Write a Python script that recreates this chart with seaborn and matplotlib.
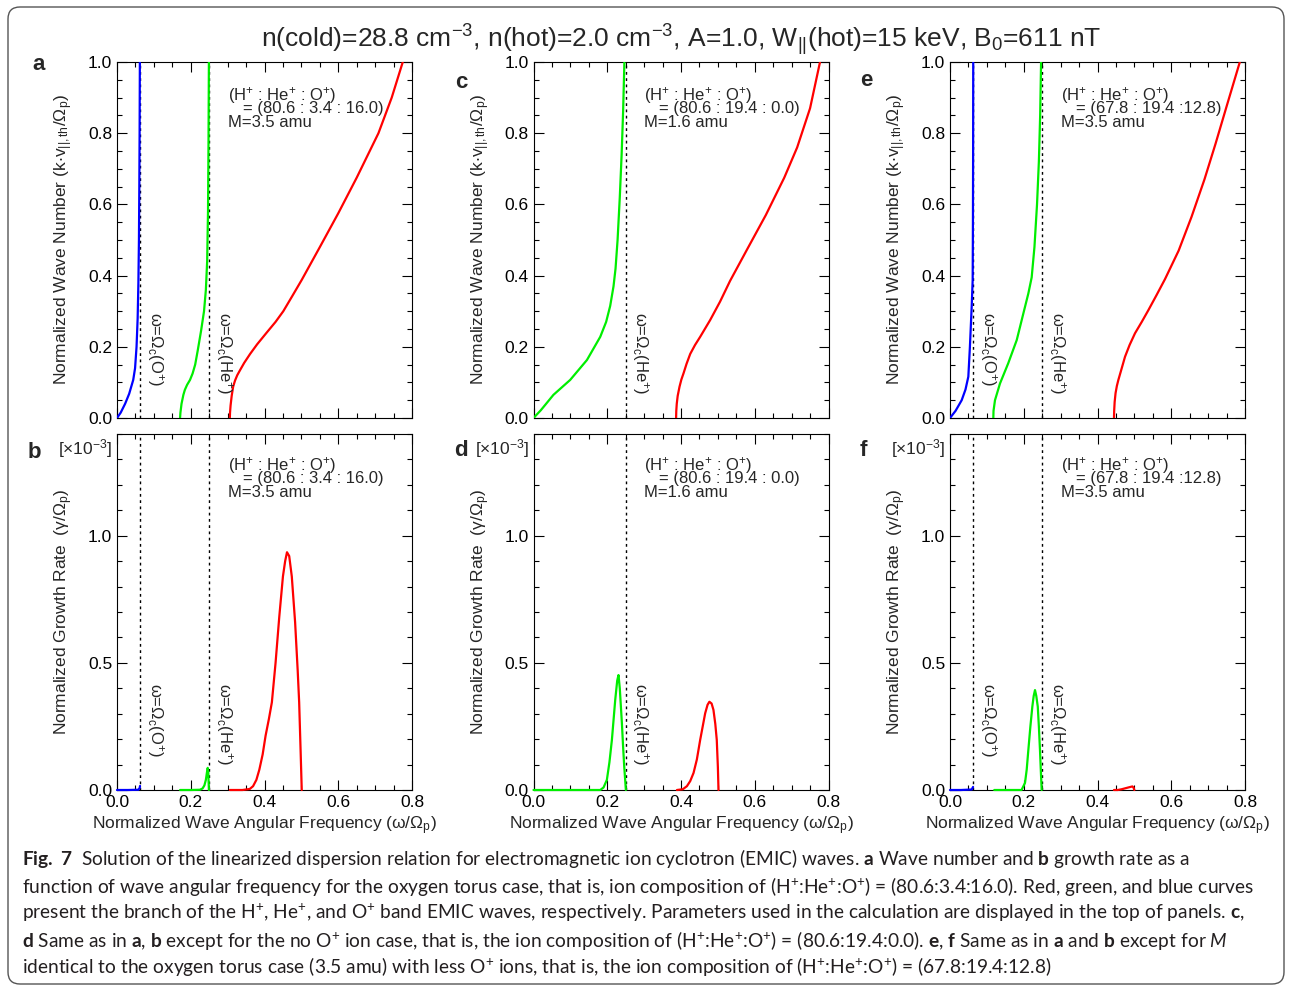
import numpy as np
import pandas as pd
import matplotlib
matplotlib.use("Agg")
import matplotlib.pyplot as plt
import seaborn as sns
from matplotlib.patches import FancyBboxPatch
from matplotlib.ticker import MultipleLocator, FormatStrFormatter

# ---------------- data ----------------
omega_O = 0.0625   # Omega_c(O+)/Omega_p
omega_He = 0.25    # Omega_c(He+)/Omega_p

# panel a : wave number
a_blue_w = [0.0, 0.01, 0.022, 0.033, 0.044, 0.049, 0.053, 0.056, 0.058, 0.0595, 0.0605, 0.0613, 0.062]
a_blue_k = [0.0, 0.015, 0.04, 0.068, 0.107, 0.14, 0.2, 0.28, 0.38, 0.5, 0.65, 0.8, 1.0]
a_green_w = [0.171, 0.172, 0.175, 0.18, 0.184, 0.19, 0.198, 0.205, 0.212, 0.219, 0.228, 0.236, 0.241, 0.2445, 0.2468, 0.2482, 0.2492]
a_green_k = [0.0, 0.015, 0.04, 0.065, 0.079, 0.093, 0.107, 0.125, 0.15, 0.19, 0.245, 0.3, 0.36, 0.44, 0.58, 0.78, 1.0]
a_red_w = [0.306, 0.3065, 0.308, 0.311, 0.315, 0.32, 0.326, 0.334, 0.345, 0.361, 0.38, 0.406, 0.43, 0.451, 0.475, 0.501, 0.55, 0.6, 0.65, 0.709, 0.745, 0.775]
a_red_k = [0.0, 0.015, 0.035, 0.062, 0.088, 0.105, 0.12, 0.135, 0.155, 0.18, 0.207, 0.24, 0.27, 0.3, 0.342, 0.388, 0.48, 0.575, 0.675, 0.8, 0.9, 1.0]

# panel b : growth rate (x1e-3)
b_blue_w = [0.0, 0.03, 0.058, 0.0615, 0.0625]
b_blue_g = [0.0, 0.0, 0.001, 0.008, 0.016]
b_green_w = [0.171, 0.2, 0.225, 0.232, 0.237, 0.241, 0.244, 0.246, 0.2475, 0.2485, 0.2492]
b_green_g = [0.0, 0.0, 0.001, 0.006, 0.018, 0.04, 0.07, 0.087, 0.07, 0.03, 0.0]
b_red_w = [0.306, 0.34, 0.36, 0.369, 0.378, 0.386, 0.395, 0.403, 0.412, 0.42, 0.43, 0.44, 0.45, 0.456, 0.461, 0.467, 0.474, 0.483, 0.49, 0.494, 0.498, 0.501]
b_red_g = [0.0, 0.0, 0.004, 0.015, 0.04, 0.08, 0.14, 0.214, 0.28, 0.345, 0.5, 0.68, 0.84, 0.9, 0.935, 0.92, 0.84, 0.66, 0.47, 0.345, 0.15, 0.0]

# panel c : wave number (no O+)
c_green_w = [0.0, 0.02, 0.054, 0.0995, 0.145, 0.181, 0.197, 0.208, 0.217, 0.2225, 0.228, 0.234, 0.239, 0.243, 0.2465]
c_green_k = [0.0, 0.022, 0.065, 0.107, 0.163, 0.228, 0.27, 0.315, 0.37, 0.42, 0.5, 0.62, 0.74, 0.86, 1.0]
c_red_w = [0.3867, 0.3872, 0.3885, 0.391, 0.396, 0.401, 0.407, 0.415, 0.425, 0.438, 0.452, 0.479, 0.506, 0.533, 0.58, 0.63, 0.68, 0.715, 0.75, 0.777]
c_red_k = [0.0, 0.02, 0.04, 0.062, 0.088, 0.108, 0.126, 0.152, 0.18, 0.205, 0.228, 0.275, 0.327, 0.385, 0.475, 0.57, 0.675, 0.76, 0.87, 1.0]

# panel d : growth rate (x1e-3)
d_green_w = [0.0, 0.1, 0.181, 0.19, 0.199, 0.206, 0.2126, 0.2216, 0.227, 0.2305, 0.234, 0.2397, 0.243, 0.246, 0.2505]
d_green_g = [0.0, 0.0, 0.0, 0.01, 0.04, 0.11, 0.197, 0.354, 0.43, 0.452, 0.4, 0.263, 0.17, 0.093, 0.0]
d_red_w = [0.389, 0.405, 0.416, 0.425, 0.434, 0.443, 0.452, 0.4656, 0.472, 0.477, 0.483, 0.488, 0.493, 0.497, 0.5, 0.5017]
d_red_g = [0.0, 0.003, 0.015, 0.035, 0.067, 0.12, 0.197, 0.302, 0.335, 0.347, 0.34, 0.315, 0.26, 0.197, 0.09, 0.0]

# panel e : wave number (less O+)
e_blue_w = [0.0, 0.015, 0.0317, 0.042, 0.0497, 0.054, 0.0588, 0.0615, 0.0622, 0.0627, 0.063]
e_blue_k = [0.0, 0.02, 0.05, 0.08, 0.116, 0.2, 0.313, 0.388, 0.55, 0.75, 1.0]
e_green_w = [0.1175, 0.118, 0.122, 0.1356, 0.158, 0.181, 0.199, 0.2125, 0.2215, 0.229, 0.236, 0.241, 0.2445, 0.247]
e_green_k = [0.0, 0.02, 0.05, 0.097, 0.154, 0.219, 0.294, 0.35, 0.395, 0.48, 0.6, 0.72, 0.85, 1.0]
e_red_w = [0.4447, 0.4452, 0.4465, 0.449, 0.4525, 0.4566, 0.463, 0.4746, 0.487, 0.5017, 0.52, 0.538, 0.56, 0.583, 0.62, 0.655, 0.69, 0.72, 0.75, 0.786]
e_red_k = [0.0, 0.02, 0.045, 0.07, 0.09, 0.107, 0.13, 0.172, 0.205, 0.238, 0.27, 0.303, 0.345, 0.39, 0.47, 0.565, 0.67, 0.77, 0.875, 1.0]

# panel f : growth rate (x1e-3)
f_blue_w = [0.0, 0.03, 0.059, 0.0625]
f_blue_g = [0.0, 0.0, 0.002, 0.012]
f_green_w = [0.12, 0.17, 0.194, 0.2034, 0.208, 0.2125, 0.218, 0.2233, 0.227, 0.2305, 0.234, 0.238, 0.241, 0.244, 0.2465, 0.2486]
f_green_g = [0.0, 0.0, 0.0, 0.028, 0.08, 0.158, 0.25, 0.328, 0.37, 0.393, 0.37, 0.328, 0.25, 0.158, 0.07, 0.0]
f_red_w = [0.4447, 0.455, 0.4656, 0.4837, 0.4946, 0.4975, 0.5]
f_red_g = [0.0, 0.0, 0.003, 0.01, 0.014, 0.01, 0.0]

ratio_labels = ["= (80.6 : 3.4 : 16.0)", "= (80.6 : 19.4 : 0.0)", "= (67.8 : 19.4 :12.8)"]
mass_labels = ["M=3.5 amu", "M=1.6 amu", "M=3.5 amu"]

# ---------------- style ----------------
sns.set_style("ticks")
plt.rcParams["font.family"] = ["Liberation Sans", "DejaVu Sans"]
plt.rcParams["mathtext.fontset"] = "custom"
plt.rcParams["mathtext.default"] = "regular"
plt.rcParams["mathtext.rm"] = "Liberation Sans"
plt.rcParams["mathtext.bf"] = "Lato:bold"
plt.rcParams["mathtext.it"] = "Lato:italic"
plt.rcParams["axes.linewidth"] = 0.8
plt.rcParams["axes.edgecolor"] = "black"

RED, GREEN, BLUE = "#ff0000", "#00ee00", "#0000ff"

W, H = 1291, 988
fig = plt.figure(figsize=(W / 100, H / 100), dpi=100)
fig.patch.set_facecolor("white")


def px_axes(left, top, width, height):
    return fig.add_axes([left / W, 1 - (top + height) / H, width / W, height / H])


col_left = [117, 533.5, 950]
AX_W, AX_H = 295, 356
TOP_Y, BOT_Y = 62, 434

top_curves = [
    [(a_blue_w, a_blue_k, BLUE), (a_green_w, a_green_k, GREEN), (a_red_w, a_red_k, RED)],
    [(c_green_w, c_green_k, GREEN), (c_red_w, c_red_k, RED)],
    [(e_blue_w, e_blue_k, BLUE), (e_green_w, e_green_k, GREEN), (e_red_w, e_red_k, RED)],
]
bot_curves = [
    [(b_blue_w, b_blue_g, BLUE), (b_green_w, b_green_g, GREEN), (b_red_w, b_red_g, RED)],
    [(d_green_w, d_green_g, GREEN), (d_red_w, d_red_g, RED)],
    [(f_blue_w, f_blue_g, BLUE), (f_green_w, f_green_g, GREEN), (f_red_w, f_red_g, RED)],
]
has_O = [True, False, True]

TICK_FS = 12.5
LAB_FS = 12.5
TXT_FS = 12


def style_axes(ax, ymajor, yminor):
    ax.set_xlim(0, 0.8)
    ax.xaxis.set_major_locator(MultipleLocator(0.2))
    ax.xaxis.set_minor_locator(MultipleLocator(0.05))
    ax.yaxis.set_major_locator(MultipleLocator(ymajor))
    ax.yaxis.set_minor_locator(MultipleLocator(yminor))
    ax.xaxis.set_major_formatter(FormatStrFormatter("%.1f"))
    ax.yaxis.set_major_formatter(FormatStrFormatter("%.1f"))
    ax.tick_params(which="both", direction="in", top=True, right=True,
                   width=0.8, labelsize=TICK_FS, colors="black")
    ax.tick_params(which="major", length=7)
    ax.tick_params(which="minor", length=3.5)
    for s in ax.spines.values():
        s.set_visible(True)
        s.set_linewidth(0.8)


def add_info(ax, i, ys):
    ax.text(0.376, ys[0], r"(H$^{+}$ : He$^{+}$ : O$^{+}$)", transform=ax.transAxes,
            fontsize=TXT_FS, va="baseline", ha="left")
    ax.text(0.427, ys[1], ratio_labels[i], transform=ax.transAxes,
            fontsize=TXT_FS, va="baseline", ha="left")
    ax.text(0.376, ys[2], mass_labels[i], transform=ax.transAxes,
            fontsize=TXT_FS, va="baseline", ha="left")


def add_reson(ax, i, ytop):
    lines = [(omega_He, r"ω=Ω$_{c}$(He$^{+}$)")]
    if has_O[i]:
        lines.insert(0, (omega_O, r"ω=Ω$_{c}$(O$^{+}$)"))
    for w0, lab in lines:
        ax.axvline(w0, color="black", lw=1.0, ls=(0, (2, 2.5)), zorder=1)
        ax.text(w0 + 0.0125, ytop, lab, rotation=270, ha="left", va="top",
                fontsize=TXT_FS)


for i in range(3):
    # ---- top: wave number ----
    ax = px_axes(col_left[i], TOP_Y, AX_W, AX_H)
    for w, k, c in top_curves[i]:
        df = pd.DataFrame({"w": w, "k": k})
        sns.lineplot(data=df, x="w", y="k", ax=ax, color=c, lw=1.6,
                     estimator=None, sort=False, zorder=3)
    ax.set_ylim(0, 1.0)
    style_axes(ax, 0.2, 0.05)
    ax.tick_params(labelbottom=False)
    ax.set_xlabel("")
    ax.set_ylabel(r"Normalized Wave Number (k$\cdot$v$_{||,th}$/Ω$_{p}$)",
                  fontsize=LAB_FS, labelpad=9)
    add_reson(ax, i, 0.298)
    add_info(ax, i, (0.893, 0.856, 0.818))

    # ---- bottom: growth rate ----
    ax2 = px_axes(col_left[i], BOT_Y, AX_W, AX_H)
    for w, g, c in bot_curves[i]:
        df = pd.DataFrame({"w": w, "g": g})
        sns.lineplot(data=df, x="w", y="g", ax=ax2, color=c, lw=1.6,
                     estimator=None, sort=False, zorder=3, clip_on=False)
    ax2.set_ylim(0, 1.4)
    style_axes(ax2, 0.5, 0.1)
    ax2.set_xlabel("Normalized Wave Angular Frequency (ω/Ω$_{p}$)", fontsize=LAB_FS, labelpad=3)
    ax2.set_ylabel("Normalized Growth Rate  (γ/Ω$_{p}$)", fontsize=LAB_FS, labelpad=9)
    add_reson(ax2, i, 0.42)
    add_info(ax2, i, (0.899, 0.862, 0.824))
    ax2.text(-0.015, 0.958, "[×10$^{-3}$]", transform=ax2.transAxes,
             ha="right", va="center", fontsize=12.5)

# panel letters
letters = [("a", 39, 65), ("b", 34, 452), ("c", 461, 82), ("d", 461, 450),
           ("e", 866, 80), ("f", 863, 450)]
for L, x, y in letters:
    fig.text(x / W, 1 - y / H, L, fontsize=16, fontweight="bold", ha="center", va="center")

# title
fig.text(681 / W, 1 - 40 / H,
         r"n(cold)=28.8 cm$^{-3}$, n(hot)=2.0 cm$^{-3}$, A=1.0, W$_{||}$(hot)=15 keV, B$_{0}$=611 nT",
         ha="center", va="center", fontsize=19)

# caption
caption = [
    r"$\mathbf{Fig.\ 7}$  Solution of the linearized dispersion relation for electromagnetic ion cyclotron (EMIC) waves. $\mathbf{a}$ Wave number and $\mathbf{b}$ growth rate as a",
    r"function of wave angular frequency for the oxygen torus case, that is, ion composition of (H$^{+}$:He$^{+}$:O$^{+}$) = (80.6:3.4:16.0). Red, green, and blue curves",
    r"present the branch of the H$^{+}$, He$^{+}$, and O$^{+}$ band EMIC waves, respectively. Parameters used in the calculation are displayed in the top of panels. $\mathbf{c}$,",
    r"$\mathbf{d}$ Same as in $\mathbf{a}$, $\mathbf{b}$ except for the no O$^{+}$ ion case, that is, the ion composition of (H$^{+}$:He$^{+}$:O$^{+}$) = (80.6:19.4:0.0). $\mathbf{e}$, $\mathbf{f}$ Same as in $\mathbf{a}$ and $\mathbf{b}$ except for $\mathit{M}$",
    r"identical to the oxygen torus case (3.5 amu) with less O$^{+}$ ions, that is, the ion composition of (H$^{+}$:He$^{+}$:O$^{+}$) = (67.8:19.4:12.8)",
]
cap_y = [859, 886, 913, 940, 966]
for line, y in zip(caption, cap_y):
    fig.text(22 / W, 1 - y / H, line, ha="left", va="center", fontsize=13.8,
             family="Lato", color="#231f20")

# rounded frame
frame = FancyBboxPatch((0.08, 0.04), 12.76, 9.77,
                       boxstyle="round,pad=0,rounding_size=0.12",
                       transform=fig.dpi_scale_trans, fill=False,
                       ec="#555555", lw=1.0)
fig.patches.append(frame)

fig.savefig("out.png", dpi=100)
